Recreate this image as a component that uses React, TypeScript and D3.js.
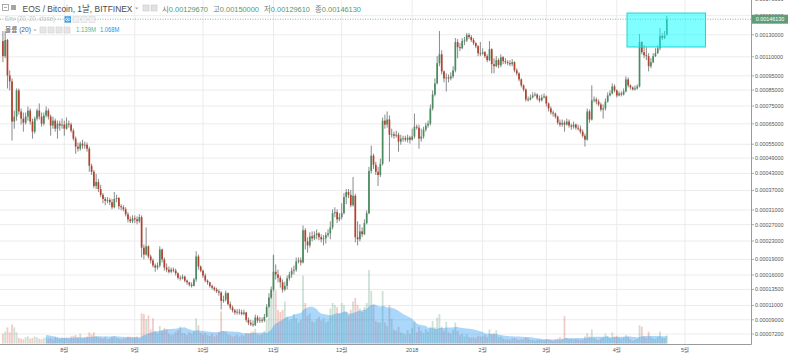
import React from "react";
import * as d3 from "d3";

const WIDTH = 788;
const HEIGHT = 355;
const PLOT_RIGHT = 751.5;
const PLOT_BOTTOM = 344.5;
const FONT = "'Liberation Sans', Arial, 'Noto Sans CJK KR', sans-serif";

const SYMBOL_TITLE = "EOS / Bitcoin, 1날, BITFINEX";
const ENV_TITLE = "Env (20, 20, close)";
const VOL_TITLE = "볼륨 (20)";
const OHLC_LABELS = ["시", "고", "저", "종"];

// daily candles from 2017-07-05 to 2018-04-23; prices in millionths of a bitcoin
const FIRST_DAY = Date.UTC(2017, 6, 5);
const DAY_MS = 86400000;
const UNIT = 1e-6;
const FIRST_OPEN = 1239;

const CLOSE = [
  1105,1249,953,910,662,689,848,718,678,656,689,723,662,610,678,723,689,651,695,723,689,641,667,625,651,641,646,
  625,651,646,615,576,539,530,553,544,548,530,459,436,385,399,375,356,343,337,340,333,318,343,346,321,318,312,298,284,279,287,
  284,279,290,215,200,218,196,188,178,174,178,211,190,174,170,166,170,168,163,155,154,157,150,147,143,141,152,196,176,168,
  159,150,147,141,138,135,132,130,117,119,129,112,107,103,100,101,100,98,100,90,86,84,83,93,89,90,89,94,108,122,135,
  166,161,155,147,135,141,154,161,168,170,186,188,184,256,229,220,241,236,244,248,239,234,236,244,248,263,301,304,284,290,
  301,349,365,356,324,353,239,234,253,246,274,301,439,500,463,436,424,467,667,646,673,595,597,590,595,562,576,578,571,581,571,
  586,635,630,576,586,620,641,651,735,821,896,1047,1121,983,931,938,931,946,991,1230,1183,1174,1239,1245,1297,1278,1249,1220,1192,1130,1128,
  1139,1105,1072,1165,1039,1023,1072,1031,1096,1063,1055,1047,1039,1055,991,968,924,882,854,790,788,802,815,821,796,784,802,809,
  765,735,712,706,689,656,646,656,646,662,641,635,646,630,625,610,590,571,718,673,784,790,777,759,729,735,777,815,828,875,848,
  815,828,821,841,924,882,868,854,861,875,1230,1139,1113,1105,1023,1055,1105,1130,1174,1288,1268,1296.7,1461.3,
];

const HIGH = [
  1337,1337,1260,991,931,723,861,861,735,712,712,747,735,678,689,735,765,712,712,747,735,700,689,678,667,667,678,
  667,684,667,656,625,586,558,562,571,562,558,539,467,443,428,410,389,362,349,349,346,343,365,356,349,327,324,318,304,292,295,
  295,292,298,295,222,263,220,200,192,182,184,218,213,194,182,176,174,174,172,165,159,161,159,152,148,147,155,207,200,178,
  170,163,152,148,143,140,138,135,132,125,133,130,116,110,105,105,105,104,104,101,93,90,89,97,96,94,93,98,112,129,140,
  200,180,170,159,152,148,159,166,174,178,194,194,194,268,261,239,251,253,253,258,251,246,244,251,258,279,312,318,312,301,
  330,362,375,375,372,417,359,279,271,263,284,309,455,544,508,475,455,487,684,700,718,695,625,610,615,605,595,590,590,595,590,
  625,706,646,646,625,635,656,667,759,848,931,1105,1337,1156,991,968,960,976,1023,1268,1258,1220,1268,1278,1317,1317,1297,1268,1230,1202,1230,
  1174,1148,1121,1239,1174,1088,1105,1088,1121,1105,1088,1072,1072,1080,1063,1007,976,931,889,861,809,821,835,835,828,815,821,828,
  815,771,747,723,712,695,673,673,667,678,673,651,662,651,646,641,620,600,735,729,882,809,802,790,771,759,796,835,848,896,889,
  855,841,841,861,946,938,889,875,882,889,1307,1239,1202,1183,1130,1088,1130,1174,1202,1367,1317,1337,1500,
];

const LOW = [
  1055,1088,861,848,567,625,667,700,646,610,646,667,646,576,600,667,673,635,641,684,673,590,625,610,576,615,625,
  590,620,630,605,567,508,517,521,530,530,517,436,424,378,375,365,349,330,324,330,324,312,315,333,312,309,306,292,276,274,274,
  274,271,274,194,190,198,192,182,174,166,170,174,184,168,165,163,163,165,159,152,150,152,147,143,140,138,140,148,170,165,
  155,147,143,138,135,132,129,125,104,114,116,110,104,100,97,97,97,96,96,87,83,82,81,82,86,86,86,87,93,107,120,
  132,152,147,138,130,132,135,150,155,161,166,182,178,182,211,204,215,229,232,234,232,227,220,224,239,234,258,290,274,279,
  284,298,327,346,318,320,227,220,229,239,244,271,298,430,447,424,385,417,460,625,630,475,581,576,581,517,548,562,562,558,553,
  567,576,620,530,562,576,610,630,641,723,809,889,1023,960,903,841,903,917,931,976,1088,1148,1165,1202,1230,1258,1230,1202,1174,1105,1105,
  1113,1088,1055,1063,968,968,1015,1007,1015,1039,1039,1031,1023,1023,976,953,910,868,841,777,777,784,796,809,784,771,777,796,
  747,718,700,689,678,646,635,635,610,641,630,620,625,620,615,600,581,539,567,656,667,771,759,747,718,678,723,770,809,822,835,
  802,809,809,815,835,868,854,848,848,854,868,1121,1088,1072,983,1007,1047,1098,1125,1156,1249,1258,1296.1,
];

// volume in millions of EOS
const VOLUME_M = [
  1.4,1.7,2.3,1.6,2.7,2.3,1.6,0.8,0.7,0.6,0.9,1.0,0.7,0.8,1.0,0.9,0.7,0.6,0.8,0.9,0.7,0.8,0.6,0.9,0.8,0.7,0.9,
  0.8,0.9,0.7,1.0,1.1,1.2,0.9,1.4,0.8,0.9,1.0,1.6,1.3,1.6,1.1,0.9,0.8,0.7,0.9,0.6,0.7,1.0,1.1,0.8,0.7,0.6,0.7,0.8,1.0,0.9,0.8,
  0.9,1.0,0.8,4.3,4.2,3.5,4.0,2.0,3.6,1.8,1.5,2.5,1.9,2.2,2.0,1.4,1.2,1.3,1.6,1.9,2.4,1.5,1.4,1.2,1.6,1.4,1.8,3.6,2.6,1.5,
  1.3,1.5,1.2,1.1,1.4,1.0,1.2,1.6,4.6,1.8,1.7,1.3,1.2,1.0,1.1,1.3,1.0,1.2,1.1,1.5,1.4,1.6,1.7,2.1,1.3,1.2,1.4,1.8,3.4,5.8,7.0,
  12.6,7.6,4.8,4.5,4.8,6.0,3.8,3.3,3.5,4.2,3.6,3.0,3.4,9.7,5.8,4.0,4.3,3.2,3.0,3.5,3.8,3.3,3.6,3.0,3.2,5.0,5.8,5.5,5.2,4.3,
  5.8,5.5,4.5,4.0,4.8,6.0,6.5,5.5,5.0,4.5,5.2,5.8,10.5,7.5,5.5,3.2,3.0,3.0,7.5,3.0,2.5,5.5,3.5,2.0,1.8,2.4,1.6,1.5,1.3,1.9,1.4,
  2.2,3.1,1.6,2.4,1.8,1.5,2.0,1.7,2.4,3.2,2.3,3.7,4.2,2.4,1.8,3.1,1.6,1.4,1.9,3.0,1.8,1.2,1.4,1.0,1.3,0.9,0.8,0.9,0.8,1.1,1.0,
  1.0,1.2,0.9,2.0,1.4,1.5,1.9,0.9,1.0,0.7,0.6,0.6,0.5,0.7,0.8,0.6,0.5,0.6,0.6,0.9,0.7,0.5,0.5,0.4,0.5,0.6,0.5,0.5,
  0.6,0.6,0.5,0.4,0.6,0.7,0.9,0.7,3.9,0.8,0.6,0.7,0.6,0.7,0.6,0.5,0.6,1.0,1.5,1.0,2.0,0.8,0.6,0.5,0.7,0.9,1.4,1.0,0.8,1.6,1.0,
  1.1,0.8,0.7,0.9,1.2,0.9,0.6,0.4,0.5,0.67,2.6,2.4,1.0,0.8,1.7,0.9,0.7,0.65,1.0,1.7,0.8,0.8,1.139,
];
const VOL_MA_LEN = 20;

const PRICE_TICKS = [
  0.0017, 0.0015, 0.0013, 0.0011, 0.00095, 0.00085, 0.00075, 0.00065, 0.00055, 0.00049, 0.00043,
  0.00037, 0.00031, 0.00027, 0.00023, 0.00019, 0.00016, 0.000135, 0.00011, 0.00009, 0.000072,
];

const MONTH_TICKS: [number, number, string][] = [
  [2017, 7, "8월"], [2017, 8, "9월"], [2017, 9, "10월"], [2017, 10, "11월"], [2017, 11, "12월"],
  [2018, 0, "2018"], [2018, 1, "2월"], [2018, 2, "3월"], [2018, 3, "4월"], [2018, 4, "5월"],
];

// user-drawn rectangle (time / price)
const BOX = { from: Date.UTC(2018, 3, 5, 12), to: Date.UTC(2018, 4, 10), top: 0.00153, bottom: 0.001185 };

const UP = "#4a8c60";
const DOWN = "#b5412d";
const WICK = "#7d7d80";

export default function App() {
  const x = d3
    .scaleUtc()
    .domain([new Date(Date.UTC(2017, 7, 1)), new Date(Date.UTC(2018, 4, 1))])
    .range([64.3, 685]);
  const LOG_OFFSET = 0.0001;
  const yLog = d3.scaleLog().domain([0.0016, 0.000172]).range([15.7, 334]);
  const y = (v: number) => yLog(v + LOG_OFFSET);
  const yVol = d3.scaleLinear().domain([0, 14]).range([343.5, 245.5]);

  const candles = CLOSE.map((c, i) => {
    const open = (i === 0 ? FIRST_OPEN : CLOSE[i - 1]) * UNIT;
    return {
      date: new Date(FIRST_DAY + i * DAY_MS),
      open,
      close: c * UNIT,
      high: HIGH[i] * UNIT,
      low: LOW[i] * UNIT,
      volume: VOLUME_M[i],
    };
  });

  const ma = candles
    .map((d, i) => {
      if (i < VOL_MA_LEN - 1) return null;
      const s = d3.sum(VOLUME_M.slice(i - VOL_MA_LEN + 1, i + 1));
      return { date: d.date, v: s / VOL_MA_LEN };
    })
    .filter((d): d is { date: Date; v: number } => d !== null);

  const areaGen = d3
    .area<{ date: Date; v: number }>()
    .x((d) => x(d.date))
    .y0(yVol(0))
    .y1((d) => yVol(d.v));

  const last = candles[candles.length - 1];
  const lastMa = ma[ma.length - 1].v;
  const ohlc = [last.open, last.high, last.low, last.close];
  const bodyW = 1.7;
  const volW = 1.8;
  const yLast = y(last.close);

  const box = (bx: number, by: number, fill: string, stroke: string, key: string) => (
    <rect key={key} x={bx} y={by} width={6} height={6} fill={fill} stroke={stroke} strokeWidth={0.6} />
  );

  return (
    <div style={{ position: "absolute", left: 0, top: 0, width: WIDTH, height: HEIGHT, background: "#fff" }}>
      <svg width={WIDTH} height={HEIGHT} style={{ display: "block", fontFamily: FONT }}>
        <defs>
          <clipPath id="plot">
            <rect x={0} y={0} width={PLOT_RIGHT} height={PLOT_BOTTOM} />
          </clipPath>
        </defs>
        <rect x={0} y={0} width={WIDTH} height={HEIGHT} fill="#fff" />

        <g clipPath="url(#plot)">
          {PRICE_TICKS.map((t) => (
            <line key={"h" + t} x1={0} x2={PLOT_RIGHT} y1={y(t)} y2={y(t)} stroke="#ececec" strokeWidth={1} />
          ))}
          {MONTH_TICKS.map(([yr, m]) => {
            const px = x(new Date(Date.UTC(yr, m, 1)));
            return <line key={"v" + yr + m} x1={px} x2={px} y1={0} y2={PLOT_BOTTOM} stroke="#ececec" strokeWidth={1} />;
          })}

          {candles.map((d, i) => {
            const up = d.close >= d.open;
            return (
              <rect
                key={"vol" + i}
                x={x(d.date) - volW / 2}
                y={yVol(d.volume)}
                width={volW}
                height={yVol(0) - yVol(d.volume)}
                fill={up ? "rgba(107,165,131,0.33)" : "rgba(215,84,66,0.3)"}
              />
            );
          })}
          <path d={areaGen(ma) || ""} fill="rgba(33,150,243,0.38)" stroke="none" />

          {candles.map((d, i) => {
            const cx = x(d.date);
            return (
              <line key={"w" + i} x1={cx} x2={cx} y1={y(d.high)} y2={y(d.low)} stroke={WICK} strokeWidth={0.9} />
            );
          })}
          {candles.map((d, i) => {
            const cx = x(d.date);
            const up = d.close >= d.open;
            const y0 = y(Math.max(d.open, d.close));
            const y1 = y(Math.min(d.open, d.close));
            return (
              <rect
                key={"b" + i}
                x={cx - bodyW / 2}
                y={y0}
                width={bodyW}
                height={Math.max(0.8, y1 - y0)}
                fill={up ? UP : DOWN}
              />
            );
          })}

          <line x1={0} x2={PLOT_RIGHT} y1={yLast} y2={yLast} stroke="#6ba583" strokeWidth={0.8} strokeDasharray="1 1.5" />

          <rect
            x={x(new Date(BOX.from))}
            y={y(BOX.top)}
            width={x(new Date(BOX.to)) - x(new Date(BOX.from))}
            height={y(BOX.bottom) - y(BOX.top)}
            fill="rgba(0,255,255,0.5)"
            stroke="#1ed6d6"
            strokeWidth={1}
          />
        </g>

        <line x1={PLOT_RIGHT} x2={PLOT_RIGHT} y1={0} y2={PLOT_BOTTOM} stroke="#9a9a9a" strokeWidth={1} />
        <line x1={0} x2={PLOT_RIGHT} y1={PLOT_BOTTOM} y2={PLOT_BOTTOM} stroke="#9a9a9a" strokeWidth={1} />
        {PRICE_TICKS.map((t) => (
          <g key={"yl" + t}>
            <line x1={PLOT_RIGHT} x2={PLOT_RIGHT + 2.5} y1={y(t)} y2={y(t)} stroke="#9a9a9a" strokeWidth={0.8} />
            <text x={755} y={y(t) + 1.9} fontSize={5.4} fill="#555">
              {t.toFixed(8)}
            </text>
          </g>
        ))}
        <rect x={752} y={yLast - 4.5} width={36} height={9} fill="#5f9d78" />
        <text x={770} y={yLast + 1.9} fontSize={5.4} fill="#fff" textAnchor="middle">
          {last.close.toFixed(8)}
        </text>
        {MONTH_TICKS.map(([yr, m, label]) => (
          <text
            key={"xl" + label}
            x={x(new Date(Date.UTC(yr, m, 1)))}
            y={351.5}
            fontSize={5.5}
            fill="#555"
            textAnchor="middle"
          >
            {label}
          </text>
        ))}

        {/* legend line 1 */}
        <rect x={2.5} y={4.5} width={6} height={6} fill="none" stroke="#8a8a8a" strokeWidth={0.7} />
        <line x1={4} x2={7} y1={7.5} y2={7.5} stroke="#8a8a8a" strokeWidth={0.7} />
        <rect x={11} y={5} width={5} height={5} fill="#a5a5a5" />
        <text x={22.5} y={12} fontSize={8.8} fill="#4a4a4a" textLength={110} lengthAdjust="spacingAndGlyphs">
          {SYMBOL_TITLE}
        </text>
        <path d="M135,7.5 L138.5,7.5 L136.75,9.5 Z" fill="#aaa" />
        {box(143, 5, "#e2e2e2", "#c8c8c8", "b1")}
        {box(151, 5, "#e2e2e2", "#c8c8c8", "b2")}
        {ohlc.map((v, i) => (
          <text key={"o" + i} x={162 + i * 51} y={12} fontSize={7.8} textLength={46} lengthAdjust="spacingAndGlyphs">
            <tspan fill="#7a7a7a">{OHLC_LABELS[i]}</tspan>
            <tspan fill="#4f9a6f">{v.toFixed(8)}</tspan>
          </text>
        ))}

        {/* legend line 2 */}
        <text x={5} y={21.3} fontSize={6.6} fill="#c6c6c6" textLength={50} lengthAdjust="spacingAndGlyphs">
          {ENV_TITLE}
        </text>
        <path d="M57,18.5 L60,18.5 L58.5,20.3 Z" fill="#ccc" />
        <rect x={64.5} y={16.2} width={6.5} height={6.5} fill="#3f9fe6" />
        <ellipse cx={67.75} cy={19.45} rx={2.3} ry={1.4} fill="none" stroke="#fff" strokeWidth={0.7} />
        <circle cx={67.75} cy={19.45} r={0.6} fill="#fff" />
        {box(73, 16.5, "#efefef", "#d8d8d8", "c1")}
        {box(81, 16.5, "#efefef", "#d8d8d8", "c2")}
        {box(89, 16.5, "#efefef", "#d8d8d8", "c3")}

        {/* legend line 3 */}
        <text x={5} y={32.4} fontSize={6.8} fill="#555" textLength={26} lengthAdjust="spacingAndGlyphs">
          {VOL_TITLE}
        </text>
        <path d="M33.5,29.5 L36.5,29.5 L35,31.3 Z" fill="#aaa" />
        {box(40, 27, "#e6e6e6", "#cfcfcf", "d1")}
        {box(48, 27, "#e6e6e6", "#cfcfcf", "d2")}
        {box(56, 27, "#e6e6e6", "#cfcfcf", "d3")}
        {box(64, 27, "#e6e6e6", "#cfcfcf", "d4")}
        <text x={76} y={32.3} fontSize={6.4} fill="#53b987" textLength={20} lengthAdjust="spacingAndGlyphs">
          {last.volume.toFixed(3) + "M"}
        </text>
        <text x={100} y={32.3} fontSize={6.4} fill="#2196f3" textLength={19.5} lengthAdjust="spacingAndGlyphs">
          {lastMa.toFixed(3) + "M"}
        </text>
      </svg>
    </div>
  );
}
